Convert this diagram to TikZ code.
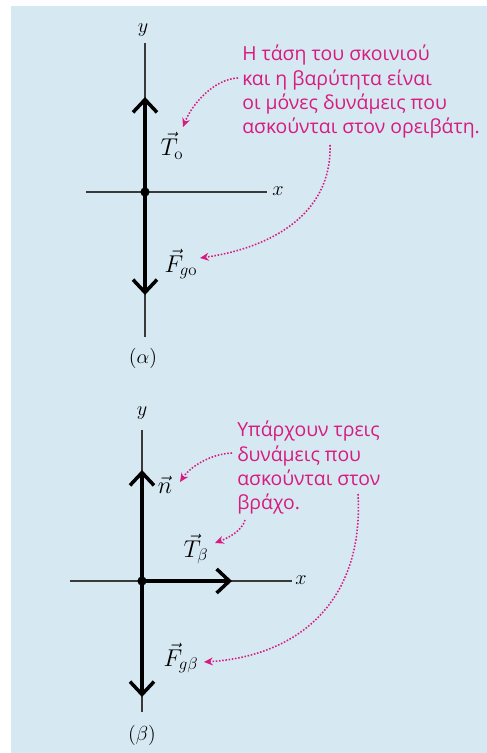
\documentclass[tikz,border=0pt]{standalone}
\usepackage{amsmath,amssymb}
\usepackage{fontspec}
\newfontfamily\notefont{Open Sans}
\usetikzlibrary{arrows.meta,positioning}
\definecolor{PanelBlue}{HTML}{D6E8F2}
\definecolor{NoteMagenta}{HTML}{D81B80}
\definecolor{AxisGray}{HTML}{3A3A3A}

\begin{document}
\begin{tikzpicture}[
    x=0.25mm, y=-0.25mm,
    axis/.style={draw=AxisGray, line width=0.9pt},
    force/.style={line width=2.8pt, line cap=round,
      -{Straight Barb[length=3.2mm,width=6mm,line width=2.5pt]}},
    dot/.style={circle, fill=black, inner sep=0pt, minimum size=2.3mm},
    axlabel/.style={font=\Large, inner sep=1pt},
    vlabel/.style={font=\LARGE, inner sep=1pt},
    note/.style={font=\notefont\fontsize{13.8}{17.3}\selectfont, text=NoteMagenta,
      align=left, anchor=north west, inner sep=0pt},
    pointer/.style={draw=NoteMagenta, line width=1.1pt, dash pattern=on 1.1pt off 1.2pt,
      -{Stealth[length=2.2mm,width=2mm]}}
  ]
  \useasboundingbox (0,0) rectangle (487,753);
  \fill[white] (0,0) rectangle (487,753);
  \fill[PanelBlue] (11,6) rectangle (487,753);

  % (a) the climber
  \coordinate (ya0) at (145,43);
  \coordinate (ya1) at (145,337);
  \coordinate (xa0) at (86,192);
  \coordinate (xa1) at (267,192);
  \coordinate (ta) at (145,97);
  \coordinate (fa) at (145,295);
  \draw[axis] (ya0) -- (ya1);
  \draw[axis] (xa0) -- (xa1);
  \node[dot] (oa) at (145,192) {};
  \draw[force] (oa.center) -- (ta);
  \draw[force] (oa.center) -- (fa);
  \node[axlabel] (ylabA) at (143,30) {$y$};
  \node[axlabel] (xlabA) at (278,191) {$x$};
  \node[vlabel] (tlabA) at (172,146) {$\vec{T}_{\mathrm{o}}$};
  \node[vlabel] (flabA) at (181,264) {$\vec{F}_{g\mathrm{o}}$};
  \node[axlabel] (capA) at (143,358) {$(\alpha)$};
  \node[note] (noteA) at (242,45) {Η τάση του σκοινιού\\και η βαρύτητα είναι\\οι μόνες δυνάμεις που\\ασκούνται στον ορειβάτη.};
  \coordinate (pa1) at (238,78);
  \coordinate (qa1) at (183,127);
  \coordinate (pa2) at (330,145);
  \coordinate (qa2) at (200,258);
  \draw[pointer] (pa1) .. controls (214,79) and (192,104) .. (qa1);
  \draw[pointer] (pa2) .. controls (332,215) and (270,248) .. (qa2);

  % (b) the rock
  \coordinate (yb0) at (142,430);
  \coordinate (yb1) at (142,712);
  \coordinate (xb0) at (70,581);
  \coordinate (xb1) at (292,581);
  \coordinate (nb) at (142,470);
  \coordinate (fb) at (142,697);
  \coordinate (tb) at (232,581);
  \draw[axis] (yb0) -- (yb1);
  \draw[axis] (xb0) -- (xb1);
  \node[dot] (ob) at (142,581) {};
  \draw[force] (ob.center) -- (nb);
  \draw[force] (ob.center) -- (fb);
  \draw[force] (ob.center) -- (tb);
  \node[axlabel] (ylabB) at (142,413) {$y$};
  \node[axlabel] (xlabB) at (301,580) {$x$};
  \node[vlabel] (nlabB) at (165,485) {$\vec{n}$};
  \node[vlabel] (tlabB) at (196,549) {$\vec{T}_{\beta}$};
  \node[vlabel] (flabB) at (181,658) {$\vec{F}_{g\beta}$};
  \node[axlabel] (capB) at (142,735) {$(\beta)$};
  \node[note] (noteB) at (237,421) {Υπάρχουν τρεις\\δυνάμεις που\\ασκούνται στον\\βράχο.};
  \coordinate (pb1) at (232,453);
  \coordinate (qb1) at (180,482);
  \coordinate (pb2) at (245,520);
  \coordinate (qb2) at (215,543);
  \coordinate (pb3) at (358,494);
  \coordinate (qb3) at (204,662);
  \draw[pointer] (pb1) .. controls (210,454) and (190,467) .. (qb1);
  \draw[pointer] (pb2) .. controls (242,531) and (228,538) .. (qb2);
  \draw[pointer] (pb3) .. controls (364,600) and (300,656) .. (qb3);
\end{tikzpicture}
\end{document}
